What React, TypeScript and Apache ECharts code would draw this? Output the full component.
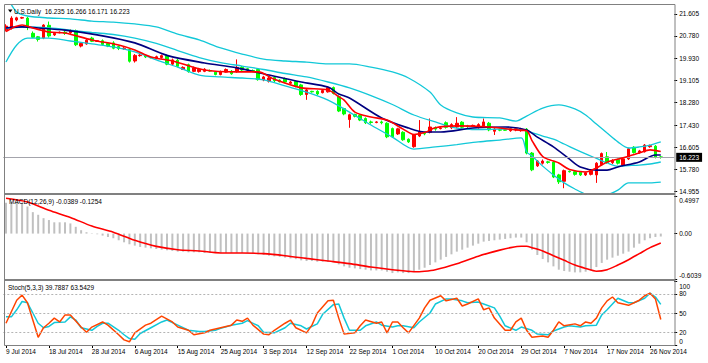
import React, { useEffect, useRef } from "react";
import * as echarts from "echarts";

const MONTHS = ["Jan","Feb","Mar","Apr","May","Jun","Jul","Aug","Sep","Oct","Nov","Dec"];
const CATEGORY_COUNT = 125;
const LABEL_EVERY = 8;

// Daily bars (Sunday sessions included, Saturdays skipped) starting 9 Jul 2014
function buildCategories(): string[] {
  const out: string[] = [];
  const d = new Date(2014, 6, 9);
  while (out.length < CATEGORY_COUNT) {
    if (d.getDay() !== 6) out.push(`${d.getDate()} ${MONTHS[d.getMonth()]} ${d.getFullYear()}`);
    d.setDate(d.getDate() + 1);
  }
  return out;
}
const categories = buildCategories();

const priceTicks = [14.955, 15.78, 16.605, 17.43, 18.28, 19.105, 19.93, 20.78, 21.605];
const macdTicks = [-0.6039, 0, 0.4997];
const stochTicks = [0, 20, 50, 80, 100];

// [open, close, low, high]
const ohlc: number[][] = [
  [21.00,21.15,20.95,21.22],[21.12,21.45,21.02,21.52],[21.38,21.46,21.33,21.50],[21.45,21.47,21.42,21.50],
  [21.45,21.15,21.00,21.50],[20.88,20.73,20.70,20.95],[20.75,20.65,20.57,20.78],[20.70,21.19,20.66,21.22],
  [21.18,20.78,20.72,21.32],[20.82,20.88,20.78,20.93],[20.90,20.92,20.88,20.95],[20.92,20.88,20.82,20.98],
  [20.90,20.98,20.86,21.03],[20.98,20.45,20.40,21.02],[20.40,20.50,20.35,20.55],[20.48,20.62,20.45,20.66],
  [20.70,20.58,20.55,20.75],[20.58,20.60,20.56,20.62],[20.60,20.46,20.42,20.65],[20.50,20.40,20.36,20.55],
  [20.52,20.32,20.28,20.58],[20.38,20.31,20.25,20.42],[20.30,20.32,20.26,20.36],[20.27,19.83,19.78,20.30],
  [19.84,20.05,19.78,20.10],[20.04,20.06,20.00,20.12],[20.05,19.99,19.95,20.08],[19.98,19.96,19.94,20.00],
  [19.94,20.00,19.90,20.04],[19.97,20.04,19.93,20.08],[20.04,19.72,19.68,20.08],[19.72,19.88,19.68,19.93],
  [19.87,19.64,19.60,19.92],[19.52,19.60,19.50,19.64],[19.70,19.44,19.40,19.74],[19.45,19.58,19.42,19.63],
  [19.44,19.53,19.40,19.58],[19.45,19.53,19.42,19.57],[19.48,19.46,19.43,19.52],[19.42,19.33,19.30,19.45],
  [19.33,19.44,19.30,19.48],[19.42,19.52,19.40,19.56],[19.45,19.36,19.32,19.50],[19.44,19.60,19.40,19.90],
  [19.60,19.50,19.46,19.65],[19.55,19.50,19.47,19.58],[19.48,19.46,19.42,19.52],[19.52,19.14,19.10,19.56],
  [19.13,19.24,19.08,19.28],[19.08,19.20,19.03,19.24],[19.22,19.10,19.05,19.26],[19.12,19.06,19.03,19.15],
  [19.18,19.05,19.00,19.22],[19.00,19.05,18.96,19.09],[19.07,18.90,18.85,19.10],[18.94,18.58,18.53,18.98],
  [18.58,18.75,18.38,18.80],[18.70,18.68,18.65,18.72],[18.70,18.60,18.55,18.74],[18.65,18.73,18.62,18.77],
  [18.68,18.84,18.65,18.88],[18.84,18.62,18.58,18.88],[18.50,17.96,17.92,18.55],[18.05,17.85,17.80,18.08],
  [17.64,17.82,17.33,17.86],[17.83,17.76,17.72,17.86],[17.80,17.62,17.58,17.84],[17.68,17.52,17.47,17.72],
  [17.55,17.53,17.48,17.60],[17.53,17.55,17.50,17.58],[17.55,17.52,17.46,17.60],[17.50,16.99,16.94,17.54],
  [17.30,16.99,16.95,17.34],[17.10,17.29,17.06,17.33],[17.16,16.88,16.84,17.20],[16.90,16.80,16.76,16.93],
  [16.62,17.07,16.58,17.10],[17.02,17.18,16.98,17.62],[17.12,17.10,17.05,17.18],[17.16,17.36,17.12,17.68],
  [17.33,17.28,17.22,17.38],[17.30,17.32,17.27,17.35],[17.52,17.35,17.30,17.57],[17.33,17.45,17.28,17.50],
  [17.36,17.50,17.31,17.73],[17.54,17.35,17.30,17.58],[17.40,17.38,17.33,17.44],[17.40,17.42,17.37,17.45],
  [17.35,17.45,17.30,17.50],[17.40,17.55,17.36,17.68],[17.50,17.25,17.20,17.55],[17.20,17.28,17.06,17.32],
  [17.26,17.24,17.20,17.30],[17.25,17.24,17.22,17.27],[17.22,17.30,17.18,17.34],[17.25,17.30,17.20,17.35],
  [17.22,17.28,17.18,17.33],[17.28,16.38,16.33,17.32],[16.38,15.75,15.70,16.42],[15.90,16.08,15.86,16.12],
  [16.00,16.08,15.95,16.14],[16.05,16.03,15.98,16.09],[16.04,15.48,15.44,16.08],[15.56,15.30,15.22,15.60],
  [15.32,15.72,15.06,15.76],[15.70,15.68,15.65,15.72],[15.68,15.58,15.53,15.72],[15.66,15.56,15.52,15.70],
  [15.56,15.64,15.52,15.68],[15.58,15.72,15.54,15.76],[15.56,16.00,15.26,16.04],[15.94,16.36,15.90,16.40],
  [16.24,16.03,15.98,16.42],[16.02,16.10,15.97,16.15],[16.13,16.00,15.95,16.17],[15.92,16.16,15.88,16.20],
  [16.16,16.54,16.12,16.58],[16.60,16.40,16.36,16.64],[16.40,16.46,16.36,16.50],[16.43,16.68,16.40,16.72],
  [16.62,16.66,16.58,16.70],[16.64,16.22,16.18,16.68],[16.235,16.223,16.171,16.266]
];

// [bar index, value] readings of the overlay lines
const bbUpper = [[0,22.32],[2,21.68],[4,21.53],[8,21.455],[12,21.42],[16,21.34],[20,21.30],[24,21.23],[28,21.12],[32,20.85],[36,20.63],[40,20.33],[44,20.10],[48,19.91],[52,19.84],[56,19.80],[60,19.73],[64,19.73],[68,19.61],[72,19.43],[75,19.20],[79,18.67],[81,18.19],[84,17.89],[87,17.735],[92,17.70],[95,17.58],[97,17.77],[100,18.07],[103,18.19],[106,18.04],[108,17.81],[110,17.47],[112,17.13],[114,16.80],[116,16.57],[118,16.61],[120,16.68],[122,16.80]];
const bbMiddle = [[0,21.06],[4,21.12],[8,21.08],[12,21.00],[16,20.91],[20,20.835],[24,20.70],[28,20.50],[32,20.23],[36,19.97],[40,19.78],[44,19.65],[48,19.52],[52,19.37],[56,19.24],[60,19.05],[64,18.83],[68,18.54],[72,18.205],[76,17.81],[80,17.55],[84,17.32],[88,17.265],[92,17.28],[96,17.265],[98,17.15],[100,17.02],[102,16.90],[104,16.72],[106,16.53],[108,16.35],[110,16.18],[112,16.01],[114,15.89],[116,15.91],[118,15.93],[120,15.97],[122,16.045]];
const bbLower = [[0,19.80],[2,20.44],[4,20.70],[8,20.70],[12,20.59],[16,20.48],[20,20.37],[24,20.18],[28,19.88],[32,19.61],[36,19.31],[40,19.24],[44,19.20],[48,19.13],[52,18.90],[56,18.67],[60,18.37],[64,17.92],[68,17.435],[72,16.98],[76,16.53],[80,16.61],[84,16.70],[88,16.80],[92,16.87],[96,16.95],[97,16.42],[98,16.27],[100,15.89],[102,15.56],[104,15.26],[106,15.03],[108,14.84],[110,14.80],[112,14.82],[114,14.99],[116,15.26],[118,15.26],[120,15.26],[122,15.29]];
const maFast = [[0,20.95],[3,21.19],[5,21.08],[8,20.93],[11,20.89],[16,20.63],[21,20.44],[24,20.25],[27,19.99],[31,19.84],[37,19.50],[43,19.43],[47,19.43],[50,19.15],[55,18.83],[60,18.75],[62,18.50],[63,18.37],[65,17.92],[68,17.735],[71,17.62],[74,17.28],[76,17.08],[78,17.15],[80,17.33],[84,17.40],[90,17.36],[95,17.25],[97,17.22],[98,16.85],[100,16.25],[102,16.08],[103,16.01],[105,15.76],[108,15.67],[110,15.82],[112,16.04],[115,16.20],[118,16.38],[120,16.50],[122,16.44]];
const maSlow = [[0,21.08],[3,21.12],[6,21.08],[11,21.00],[17,20.82],[24,20.52],[30,20.05],[37,19.765],[43,19.58],[49,19.31],[55,19.05],[60,18.86],[62,18.60],[64,18.45],[70,17.70],[75,17.32],[78,17.17],[81,17.17],[87,17.32],[93,17.36],[97,17.25],[99,16.98],[102,16.61],[105,16.15],[107,15.86],[110,15.74],[112,15.74],[114,15.86],[118,16.045],[121,16.31],[122,16.31]];

const macdMain = [
  0.41,0.42,0.42,0.41,0.36,0.285,0.25,0.205,0.18,0.15,0.15,0.15,0.135,0.09,0.045,0.018,0.005,-0.009,-0.027,-0.045,
  -0.062,-0.089,-0.116,-0.142,-0.16,-0.178,-0.187,-0.196,-0.205,-0.214,-0.222,-0.231,-0.24,-0.24,-0.249,-0.249,-0.249,-0.258,-0.258,-0.258,
  -0.258,-0.258,-0.258,-0.258,-0.258,-0.258,-0.267,-0.276,-0.285,-0.294,-0.303,-0.31,-0.32,-0.33,-0.34,-0.356,-0.365,-0.365,-0.374,-0.374,
  -0.374,-0.383,-0.41,-0.436,-0.454,-0.463,-0.472,-0.48,-0.49,-0.49,-0.49,-0.507,-0.525,-0.516,-0.525,-0.525,-0.507,-0.48,-0.454,-0.418,
  -0.383,-0.347,-0.31,-0.276,-0.24,-0.214,-0.187,-0.16,-0.134,-0.107,-0.098,-0.089,-0.08,-0.071,-0.062,-0.053,-0.053,-0.116,-0.214,-0.285,
  -0.338,-0.383,-0.436,-0.48,-0.498,-0.507,-0.516,-0.516,-0.507,-0.49,-0.445,-0.39,-0.347,-0.32,-0.294,-0.267,-0.24,-0.187,-0.134,-0.089,
  -0.062,-0.045,-0.0389
];
const macdSignal = [[0,0.47],[4,0.42],[8,0.31],[12,0.215],[16,0.10],[20,0.018],[24,-0.089],[28,-0.17],[32,-0.214],[36,-0.231],[40,-0.258],[44,-0.258],[48,-0.267],[52,-0.294],[56,-0.33],[60,-0.365],[64,-0.40],[68,-0.445],[72,-0.48],[76,-0.507],[78,-0.50],[80,-0.48],[84,-0.40],[88,-0.30],[92,-0.22],[94,-0.187],[96,-0.169],[97,-0.169],[98,-0.187],[100,-0.23],[102,-0.294],[104,-0.356],[106,-0.418],[108,-0.463],[110,-0.50],[112,-0.48],[114,-0.418],[116,-0.347],[118,-0.267],[120,-0.187],[122,-0.1254]];

const stochK = [[0,34],[1,52],[2,70],[3,78],[4,66],[5,39],[6,12],[7,27],[8,34],[9,42],[10,36],[11,47],[12,47],[14,28],[15,20],[16,28],[18,36],[19,31],[21,16],[22,8],[23,5],[24,19],[26,31],[27,34],[29,45],[31,36],[32,28],[34,23],[35,16],[37,19],[38,23],[40,27],[42,31],[43,39],[44,37],[45,42],[46,31],[48,17],[49,16],[50,23],[52,34],[53,39],[54,27],[56,19],[57,31],[58,50],[60,69],[61,70],[62,42],[63,17],[65,19],[66,30],[67,39],[69,34],[70,36],[71,19],[72,36],[73,36],[74,27],[75,19],[77,42],[78,58],[79,70],[81,77],[82,69],[84,73],[85,61],[86,64],[88,72],[89,55],[90,58],[91,42],[93,23],[94,23],[95,36],[96,42],[97,23],[98,12],[100,14],[101,12],[102,23],[103,36],[104,30],[106,33],[107,30],[108,36],[109,34],[110,42],[111,58],[112,69],[113,75],[114,66],[116,62],[118,70],[119,77],[120,81],[121,72],[122,39.7887]];
const stochD = [[0,44],[1,44],[2,55],[3,68],[4,66],[5,50],[6,34],[7,27],[8,29],[9,35],[11,36],[12,44],[13,39],[14,27],[16,23],[17,29],[18,34],[19,34],[21,23],[22,16],[23,10],[24,9],[25,18],[27,27],[29,36],[30,39],[32,31],[34,23],[36,21],[37,21],[39,23],[40,26],[42,31],[44,34],[45,38],[47,30],[48,20],[50,19],[52,27],[53,34],[55,30],[56,25],[58,33],[59,48],[61,63],[62,64],[63,42],[64,23],[66,23],[67,30],[69,36],[70,31],[72,28],[73,30],[74,30],[76,27],[77,36],[79,50],[80,64],[82,72],[83,72],[85,69],[86,66],[88,67],[89,64],[91,58],[92,45],[93,30],[95,23],[96,28],[98,23],[99,17],[101,16],[102,22],[104,28],[105,30],[107,28],[108,30],[110,31],[111,47],[112,55],[113,64],[114,73],[116,66],[117,66],[119,73],[120,81],[121,75],[122,63.5429]];
const stochLevels = [20, 50, 80];

const lastPrice = 16.223;
const headerMain = "U.S.Daily  16.235 16.266 16.171 16.223";
const headerMacd = "MACD(12,26,9) -0.0389 -0.1254";
const headerStoch = "Stoch(5,3,3) 39.7887 63.5429";

const FONT = '"Liberation Sans", Arial, sans-serif';
const FS = 6.5;
const CYAN = "#12c8d8";

export default function App() {
  const ref = useRef<HTMLDivElement>(null);
  useEffect(() => {
    if (!ref.current) return;
    const chart = echarts.init(ref.current, null, { renderer: "svg" });
    const gridLeft = 3.3;
    const gridWidth = 670.9;
    const labelStyle = { fontSize: FS, fontFamily: FONT, color: "#000" };
    const valueRich = {
      v: { fontSize: FS, fontFamily: FONT, color: "#000", lineHeight: 8 },
      g7: { fontSize: FS, fontFamily: FONT, lineHeight: 7 },
      g8: { fontSize: FS, fontFamily: FONT, lineHeight: 8 },
      g10: { fontSize: FS, fontFamily: FONT, lineHeight: 10 },
    };
    const tickStyle = { lineStyle: { color: "#000", width: 1 }, length: 3 };
    const hiddenX = (gi: number) => ({
      type: "category", gridIndex: gi, data: categories, boundaryGap: true, show: false,
    });
    const option: any = {
      animation: false,
      backgroundColor: "#fff",
      grid: [
        { left: gridLeft, width: gridWidth, top: 5, height: 188 },
        { left: gridLeft, width: gridWidth, top: 196, height: 83 },
        { left: gridLeft, width: gridWidth, top: 281, height: 64 },
      ],
      xAxis: [
        hiddenX(0),
        hiddenX(1),
        {
          type: "category", gridIndex: 2, data: categories, boundaryGap: true,
          axisLine: { show: false },
          axisTick: { show: true, alignWithLabel: true, interval: (i: number) => i % LABEL_EVERY === 0, ...tickStyle },
          axisLabel: { ...labelStyle, interval: (i: number) => i % LABEL_EVERY === 0, align: "left", margin: 3 },
          splitLine: { show: false },
        },
      ],
      yAxis: [
        {
          type: "value", gridIndex: 0, position: "right", min: 14.88, max: 21.943,
          splitLine: { show: false }, axisLine: { show: false },
          axisTick: { show: true, customValues: priceTicks, ...tickStyle },
          axisLabel: { ...labelStyle, margin: 5, customValues: priceTicks, formatter: (v: number) => v.toFixed(3) },
        },
        {
          type: "value", gridIndex: 1, position: "right", min: -0.6039, max: 0.4997,
          splitLine: { show: false }, axisLine: { show: false },
          axisTick: { show: true, customValues: macdTicks, ...tickStyle },
          axisLabel: {
            ...labelStyle, margin: 5, customValues: macdTicks, rich: valueRich,
            formatter: (v: number) => {
              if (Math.abs(v - 0.4997) < 1e-6) return "{g8| }\n{v|0.4997}";
              if (Math.abs(v + 0.6039) < 1e-6) return "{v|-0.6039}\n{g8| }";
              return "{v|" + v.toFixed(2) + "}";
            },
          },
        },
        {
          type: "value", gridIndex: 2, position: "right", min: 0, max: 100,
          splitLine: { show: false }, axisLine: { show: false },
          axisTick: { show: true, customValues: stochTicks, ...tickStyle },
          axisLabel: {
            ...labelStyle, margin: 5, customValues: stochTicks, rich: valueRich,
            formatter: (v: number) => {
              if (v === 100) return "{g10| }\n{v|100}";
              if (v === 0) return "{v|0}\n{g7| }";
              return "{v|" + String(v) + "}";
            },
          },
        },
      ],
      series: [
        {
          type: "line", name: "bbUpper", xAxisIndex: 0, yAxisIndex: 0, data: bbUpper, showSymbol: false, smooth: 0.3,
          lineStyle: { color: CYAN, width: 1.3 }, z: 3,
        },
        {
          type: "line", name: "bbMiddle", xAxisIndex: 0, yAxisIndex: 0, data: bbMiddle, showSymbol: false, smooth: 0.3,
          lineStyle: { color: CYAN, width: 1.3 }, z: 3,
        },
        {
          type: "line", name: "bbLower", xAxisIndex: 0, yAxisIndex: 0, data: bbLower, showSymbol: false, smooth: 0.3,
          lineStyle: { color: CYAN, width: 1.3 }, z: 3,
        },
        {
          type: "candlestick", name: "price", xAxisIndex: 0, yAxisIndex: 0, data: ohlc, barWidth: 3, z: 2,
          itemStyle: { color: "#ff0000", color0: "#00ff00", borderColor: "#ff0000", borderColor0: "#00ff00", borderWidth: 1 },
          markLine: {
            silent: true, symbol: ["none", "none"], animation: false,
            lineStyle: { color: "#a4a4ac", width: 1, type: "solid" },
            label: {
              show: true, position: "end", distance: 2, formatter: lastPrice.toFixed(3),
              backgroundColor: "#000", color: "#fff", fontSize: FS, fontFamily: FONT, padding: [1, 3, 1, 3],
            },
            data: [{ yAxis: lastPrice }],
          },
        },
        {
          type: "line", name: "maSlow", xAxisIndex: 0, yAxisIndex: 0, data: maSlow, showSymbol: false, smooth: 0.3,
          lineStyle: { color: "#000080", width: 1.6 }, z: 4,
        },
        {
          type: "line", name: "maFast", xAxisIndex: 0, yAxisIndex: 0, data: maFast, showSymbol: false, smooth: 0.3,
          lineStyle: { color: "#ff0000", width: 1.6 }, z: 5,
        },
        {
          type: "bar", name: "macd", xAxisIndex: 1, yAxisIndex: 1, data: macdMain, barWidth: 2,
          itemStyle: { color: "#c0c0c0" },
        },
        {
          type: "line", name: "signal", xAxisIndex: 1, yAxisIndex: 1, data: macdSignal, showSymbol: false, smooth: 0.3,
          lineStyle: { color: "#ff0000", width: 1.6 }, z: 4,
        },
        {
          type: "line", name: "stochD", xAxisIndex: 2, yAxisIndex: 2, data: stochD, showSymbol: false,
          lineStyle: { color: CYAN, width: 1.5 }, z: 3,
          markLine: {
            silent: true, symbol: ["none", "none"], animation: false, label: { show: false },
            lineStyle: { color: "#b4b4b4", width: 1, type: [2, 2] },
            data: stochLevels.map((v) => ({ yAxis: v })),
          },
        },
        {
          type: "line", name: "stochK", xAxisIndex: 2, yAxisIndex: 2, data: stochK, showSymbol: false,
          lineStyle: { color: "#ff4500", width: 1.5 }, z: 4,
        },
      ],
      graphic: [
        { type: "rect", z: 50, shape: { x: 4.5, y: 4.5, width: 670.5, height: 341 }, style: { fill: "none", stroke: "#808080", lineWidth: 1 } },
        { type: "rect", z: 50, shape: { x: 4, y: 193, width: 671, height: 2 }, style: { fill: "#808080" } },
        { type: "rect", z: 50, shape: { x: 4, y: 279, width: 671, height: 2 }, style: { fill: "#808080" } },
        { type: "polygon", z: 50, shape: { points: [[8, 9.5], [12.5, 9.5], [10.25, 12.5]] }, style: { fill: "#000" } },
        { type: "text", z: 50, x: 14, y: 11, style: { text: headerMain, fill: "#000", font: `${FS}px ${FONT}`, verticalAlign: "middle", textVerticalAlign: "middle" } },
        { type: "text", z: 50, x: 9, y: 201, style: { text: headerMacd, fill: "#000", font: `${FS}px ${FONT}`, verticalAlign: "middle", textVerticalAlign: "middle" } },
        { type: "text", z: 50, x: 8, y: 287, style: { text: headerStoch, fill: "#000", font: `${FS}px ${FONT}`, verticalAlign: "middle", textVerticalAlign: "middle" } },
      ],
    };
    chart.setOption(option);
    return () => chart.dispose();
  }, []);
  return (
    <div
      ref={ref}
      style={{ position: "fixed", left: 0, top: 0, width: 708, height: 363, background: "#fff" }}
    />
  );
}
